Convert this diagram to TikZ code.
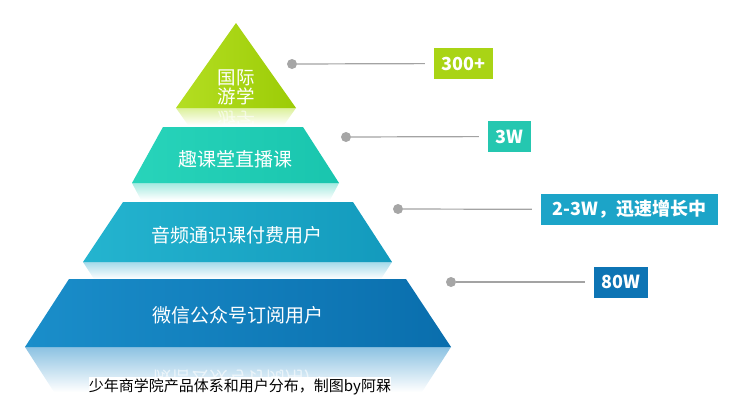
\documentclass[tikz,border=0pt]{standalone}
\usepackage{fontspec}
\setmainfont{Noto Sans CJK SC}
\definecolor{limeL}{HTML}{B4DE22}
\definecolor{limeR}{HTML}{9CCC06}
\definecolor{limeF}{HTML}{DCF09A}
\definecolor{tealL}{HTML}{28D4BA}
\definecolor{tealR}{HTML}{19C5AE}
\definecolor{tealF}{HTML}{A4EAE0}
\definecolor{cyanL}{HTML}{24B4CF}
\definecolor{cyanR}{HTML}{139ABD}
\definecolor{cyanF}{HTML}{A4DAEA}
\definecolor{blueL}{HTML}{1A8ECA}
\definecolor{blueR}{HTML}{0A6EAD}
\definecolor{blueF}{HTML}{8CC2E2}
\definecolor{tagA}{HTML}{A9D415}
\definecolor{tagB}{HTML}{25C7B0}
\definecolor{tagC}{HTML}{1CA4C8}
\definecolor{tagD}{HTML}{0D74B4}
\definecolor{dotgray}{HTML}{A6A6A6}
\definecolor{linegray}{HTML}{A3A3A3}
\tikzset{
  tiertext/.style={text=white,font=\fontsize{19}{19}\selectfont,align=center,inner sep=0pt},
  mirrortext/.style={tiertext,yscale=-1,opacity=0.6},
  dot/.style={circle,fill=dotgray,minimum size=10pt,inner sep=0pt},
  tag/.style={font=\bfseries\fontsize{18}{18}\selectfont,text=white,inner sep=0pt,minimum height=31pt},
  leader/.style={draw=linegray,line width=1.2pt,shorten >=9pt}
}
\begin{document}
\begin{tikzpicture}[x=1pt,y=-1pt]
\useasboundingbox (0,0) rectangle (735,416);
\shade[top color=limeF,bottom color=white] (176,108) -- (296,108) -- (284,125) -- (188,125) -- cycle;
\begin{scope}
\clip (176,108) -- (296,108) -- (284,125) -- (188,125) -- cycle;
\node[mirrortext] (studyR) at (236,129) {国际\\游学};
\end{scope}
\shade[left color=limeL,right color=limeR] (236,23) -- (296,108) -- (176,108) -- cycle;
\node[tiertext,font=\fontsize{18.5}{19}\selectfont] (study) at (236,87) {国际\\游学};
\shade[top color=tealF,bottom color=white] (132,183) -- (339,183) -- (330,200) -- (141,200) -- cycle;
\shade[left color=tealL,right color=tealR] (163,127) -- (303,127) -- (339,183) -- (132,183) -- cycle;
\node[tiertext] (live) at (235,159) {趣课堂直播课};
\shade[top color=cyanF,bottom color=white] (83,262) -- (392,262) -- (381,279) -- (94,279) -- cycle;
\shade[left color=cyanL,right color=cyanR] (123,202) -- (353,202) -- (392,262) -- (83,262) -- cycle;
\node[tiertext] (audio) at (237,235) {音频通识课付费用户};
\shade[top color=blueF,bottom color=white] (25,347) -- (451,347) -- (422,392) -- (54,392) -- cycle;
\begin{scope}
\clip (25,347) -- (451,347) -- (422,392) -- (54,392) -- cycle;
\node[mirrortext] (wechatR) at (238,379) {微信公众号订阅用户};
\end{scope}
\shade[left color=blueL,right color=blueR] (69,279) -- (406,279) -- (451,347) -- (25,347) -- cycle;
\node[tiertext] (wechat) at (238,315) {微信公众号订阅用户};
\node[fill=white,inner xsep=0pt,inner ysep=2pt,font=\fontsize{15}{15}\selectfont] (caption) at (240,387) {少年商学院产品体系和用户分布，制图by阿槑};
\node[dot] (d1) at (292,64) {};
\node[tag,fill=tagA,minimum width=59pt] (t1) at (463.5,63.5) {300+};
\draw[leader] (d1) -- (t1);
\node[dot] (d2) at (346,137) {};
\node[tag,fill=tagB,minimum width=43pt] (t2) at (509.5,136.5) {3W};
\draw[leader] (d2) -- (t2);
\node[dot] (d3) at (398,209) {};
\node[tag,fill=tagC,minimum width=177pt] (t3) at (629.5,209.5) {2-3W，迅速增长中};
\draw[leader] (d3) -- (t3);
\node[dot] (d4) at (451,282) {};
\node[tag,fill=tagD,minimum width=54pt] (t4) at (621,282) {80W};
\draw[leader] (d4) -- (t4);
\end{tikzpicture}
\end{document}
